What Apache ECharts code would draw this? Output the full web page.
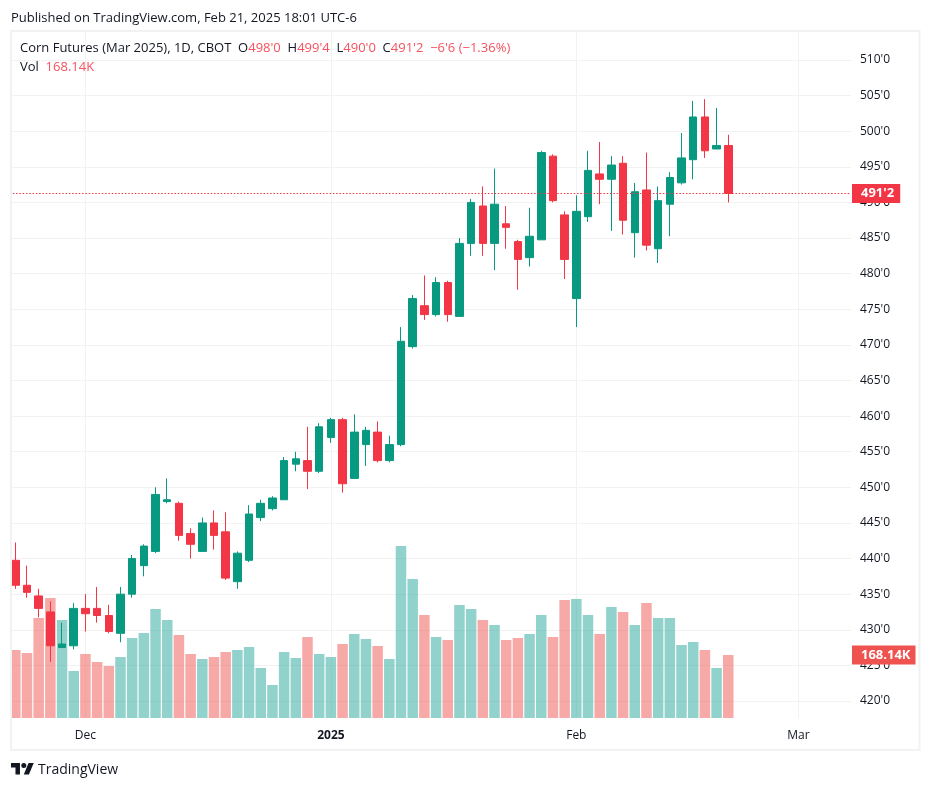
<!DOCTYPE html>
<html>
<head>
<meta charset="utf-8">
<title>Corn Futures (Mar 2025)</title>
<script src="https://cdn.jsdelivr.net/npm/echarts@6/dist/echarts.min.js"></script>
<style>
html, body { margin: 0; padding: 0; background: #fff; }
#main { width: 931px; height: 789px; }
</style>
</head>
<body>
<div id="main"></div>
<script>
// trading days, the last ten have no data yet (empty room on the right of the chart)
var dates = [
    '2024-11-21','2024-11-22','2024-11-25','2024-11-26','2024-11-27','2024-11-29',
    '2024-12-02','2024-12-03','2024-12-04','2024-12-05','2024-12-06',
    '2024-12-09','2024-12-10','2024-12-11','2024-12-12','2024-12-13',
    '2024-12-16','2024-12-17','2024-12-18','2024-12-19','2024-12-20',
    '2024-12-23','2024-12-24','2024-12-26','2024-12-27','2024-12-30','2024-12-31',
    '2025-01-02','2025-01-03','2025-01-06','2025-01-07','2025-01-08','2025-01-09','2025-01-10',
    '2025-01-13','2025-01-14','2025-01-15','2025-01-16','2025-01-17',
    '2025-01-21','2025-01-22','2025-01-23','2025-01-24',
    '2025-01-27','2025-01-28','2025-01-29','2025-01-30','2025-01-31',
    '2025-02-03','2025-02-04','2025-02-05','2025-02-06','2025-02-07',
    '2025-02-10','2025-02-11','2025-02-12','2025-02-13','2025-02-14',
    '2025-02-18','2025-02-19','2025-02-20','2025-02-21',
    '2025-02-24','2025-02-25','2025-02-26','2025-02-27','2025-02-28',
    '2025-03-03','2025-03-04','2025-03-05','2025-03-06','2025-03-07'
];
var opens = [
    439.75,436.25,434.75,432.5,427.5,427.75,433,433,432,429.5,435,439,441,448,447.75,443.5,
    441,445,443.75,436.75,439.75,445.75,447,448.25,453.25,453.75,452.25,457,459.5,451.25,456,
    457.75,453.75,456,469.75,475.5,474.25,478.75,474,484.25,489.5,484.25,487,484.5,482.25,
    484.75,496.5,488.25,476.5,488,494,493.25,495.5,485.75,491.75,483.5,489.75,492.75,496,502,497.5,498
];
var highs = [
    442.25,439,435.75,434,431,433.75,435,436,433.5,436,440.5,442,450,451.25,448,444.25,
    445.75,446.75,446.5,441,447.5,448.25,448.75,454.25,455,458.5,459,459.75,459.75,460.25,458.5,
    459.25,457.25,472.5,477,479.75,479.5,479,485,490.5,492.25,494.75,489.5,484.75,489.25,
    497.25,496.75,488.75,491,497.25,498.5,496.5,496.5,492.75,497,492.25,494.25,499.75,504.25,504.5,503.25,499.5
];
var lows = [
    435.75,434.5,431.75,425.5,427.5,427.25,429.75,431,429.5,428.25,434.5,437.5,440.75,447.75,442.5,440,
    441,441.25,437,435.75,439.5,445.25,446.75,448.25,452.25,449.75,452,456.25,449.25,451.25,453,
    453.5,453.5,455.75,469.5,473.5,474,473.25,474,482.5,482.5,480.5,483.5,477.75,481,
    484.75,490,479.25,472.5,487.25,489.75,486,485.5,482.25,483.25,481.5,485.25,492.5,493.25,496.25,497.5,490
];
var closes = [
    436.25,435.25,433,427.75,428,433,432.25,432,429.75,435,440,441.75,449,448.25,443.25,442,
    445,443.25,437.25,440.75,446.25,447.75,448.5,453.75,454,452.25,458.5,459.5,450.5,457.75,458,
    453.75,456,470.5,476.5,474.25,478.75,474.25,484.25,490,484.25,489.75,486.5,482,485.25,
    497,490.25,482,488.75,494.5,493.25,495.25,487.5,491.5,484,490.25,493.5,496.25,502,497.25,498,491.25
];
// volume in thousands of contracts
var volumes = [
    181.5,173.5,266.9,320.3,261.6,125.4,170.8,149.5,138.8,162.8,213.5,226.9,290.9,261.6,221.5,170.8,
    157.5,162.8,176.2,181.5,189.5,133.5,88.1,176.2,160.1,216.2,170.8,162.8,197.5,224.2,210.9,
    192.2,157.5,459.1,371,274.9,216.2,208.2,301.6,290.9,261.6,248.2,208.2,213.5,224.2,
    274.9,216.2,314.9,317.6,274.9,224.2,296.3,282.9,248.2,306.9,266.9,266.9,194.8,202.8,181.5,133.5,168.14
];
var priceTicks = [420,425,430,435,440,445,450,455,460,465,470,475,480,485,490,495,500,505,510];
var timeTickDates = ['2024-12-02','2025-01-02','2025-02-03','2025-03-03'];
var timeTickNames = ['Dec','2025','Feb','Mar'];

var UP_COLOR = '#089981';
var DOWN_COLOR = '#f23645';
var GRID_COLOR = '#f2f2f3';
var TEXT_COLOR = '#131722';
var FONT = '"Open Sans", sans-serif';

// price in cents with eighths after the apostrophe: 491.25 -> 491'2
function formatPrice(value) {
    var whole = Math.floor(value);
    return whole + "'" + Math.round((value - whole) * 8);
}

function formatChange(value) {
    var abs = Math.abs(value);
    var whole = Math.floor(abs);
    return (value < 0 ? '\u2212' : '') + whole + "'" + Math.round((abs - whole) * 8);
}

var last = opens.length - 1;
var change = closes[last] - closes[last - 1];
var candleData = [];
var volumeData = [];
for (var i = 0; i < opens.length; i++) {
    candleData.push([opens[i], closes[i], lows[i], highs[i]]);
    volumeData.push({
        value: volumes[i],
        itemStyle: { color: closes[i] >= opens[i] ? 'rgba(38,166,154,0.5)' : 'rgba(239,83,80,0.5)' }
    });
}

var headerText =
    '{k|Corn Futures (Mar 2025), 1D, CBOT  O}{r|' + formatPrice(opens[last]) + '}' +
    '{k|  H}{r|' + formatPrice(highs[last]) + '}' +
    '{k|  L}{r|' + formatPrice(lows[last]) + '}' +
    '{k|  C}{r|' + formatPrice(closes[last]) + '}' +
    '{r|  ' + formatChange(change) + ' (\u22121.36%)}';

var headerRich = {
    k: { color: TEXT_COLOR, fontFamily: FONT, fontSize: 13, fontWeight: 'normal' },
    r: { color: '#f7525f', fontFamily: FONT, fontSize: 13, fontWeight: 'normal' }
};

var option = {
    animation: false,
    backgroundColor: '#fff',
    title: [
        { text: 'Published on TradingView.com, Feb 21, 2025 18:01 UTC-6', left: 11, top: 12, padding: 0,
          textStyle: { color: TEXT_COLOR, fontFamily: FONT, fontSize: 13, fontWeight: 'normal' } },
        { text: headerText, left: 20, top: 42, padding: 0, textStyle: { rich: headerRich, fontWeight: 'normal' } },
        { text: '{k|Vol  }{r|' + volumes[last].toFixed(2) + 'K}', left: 20, top: 61, padding: 0,
          textStyle: { rich: headerRich, fontWeight: 'normal' } }
    ],
    grid: { left: 9.45, right: 80, top: 31, height: 687, containLabel: false },
    xAxis: {
        type: 'category',
        data: dates,
        axisLine: { show: false },
        axisTick: { show: false },
        axisLabel: {
            margin: 12,
            color: TEXT_COLOR,
            fontFamily: FONT,
            fontSize: 12,
            interval: function(index, value) {
                return timeTickDates.indexOf(value) >= 0;
            },
            formatter: function(value) {
                var name = timeTickNames[timeTickDates.indexOf(value)];
                return name == '2025' ? '{b|' + name + '}' : name;
            },
            rich: { b: { color: TEXT_COLOR, fontFamily: FONT, fontSize: 12, fontWeight: 'bold' } }
        },
        splitLine: {
            show: true,
            alignWithLabel: true,
            interval: function(index, value) {
                return timeTickDates.indexOf(value) >= 0;
            },
            lineStyle: { color: GRID_COLOR, width: 1 }
        }
    },
    yAxis: [
        {
            type: 'value',
            position: 'right',
            min: 417.61,
            max: 514.07,
            axisLine: { show: false },
            axisTick: { show: false, customValues: priceTicks },
            axisLabel: {
                customValues: priceTicks,
                margin: 9,
                padding: [2, 0, 0, 0],
                color: TEXT_COLOR,
                fontFamily: FONT,
                fontSize: 12,
                formatter: function(value) { return formatPrice(value); }
            },
            splitLine: { show: true, lineStyle: { color: GRID_COLOR, width: 1 } }
        },
        {
            type: 'value',
            min: 0,
            max: 1833.6,
            show: false,
            splitLine: { show: false }
        }
    ],
    series: [
        {
            name: 'Vol',
            type: 'bar',
            yAxisIndex: 1,
            barWidth: 10.5,
            data: volumeData,
            z: 2,
            markLine: {
                silent: true,
                symbol: 'none',
                lineStyle: { color: 'transparent' },
                label: {
                    position: 'end',
                    distance: 1,
                    formatter: function() { return volumes[last].toFixed(2) + 'K'; },
                    color: '#fff',
                    fontFamily: FONT,
                    fontSize: 13,
                    fontWeight: 'bold',
                    backgroundColor: '#ef5350',
                    padding: [3, 5, 3, 9]
                },
                data: [{ yAxis: volumes[last] }]
            }
        },
        {
            name: 'Corn Futures',
            type: 'candlestick',
            yAxisIndex: 0,
            barWidth: 8,
            data: candleData,
            z: 3,
            itemStyle: {
                color: UP_COLOR,
                color0: DOWN_COLOR,
                borderColor: UP_COLOR,
                borderColor0: DOWN_COLOR,
                borderWidth: 1,
                borderJoin: 'miter'
            },
            markLine: {
                silent: true,
                symbol: 'none',
                lineStyle: { color: DOWN_COLOR, type: [1.5, 1.8], width: 1 },
                label: {
                    position: 'end',
                    distance: 1,
                    formatter: function() { return formatPrice(closes[last]); },
                    color: '#fff',
                    fontFamily: FONT,
                    fontSize: 13,
                    fontWeight: 'bold',
                    backgroundColor: DOWN_COLOR,
                    padding: [3, 6, 3, 9]
                },
                data: [{ yAxis: closes[last] }]
            }
        }
    ],
    graphic: [
        // frame of the chart, white strip hides the part of the first band left of it
        { type: 'rect', z: 100, shape: { x: 0, y: 30, width: 10.5, height: 720 }, style: { fill: '#fff' } },
        { type: 'rect', z: 101, shape: { x: 11, y: 31, width: 908.5, height: 719 },
          style: { fill: 'none', stroke: GRID_COLOR, lineWidth: 2 } },
        // logo
        { type: 'polygon', z: 101, x: 11, y: 760.4, scaleX: 0.64, scaleY: 0.64,
          shape: { points: [[0, 4], [14, 4], [14, 22], [7, 22], [7, 11], [0, 11]] }, style: { fill: TEXT_COLOR } },
        { type: 'polygon', z: 101, x: 11, y: 760.4, scaleX: 0.64, scaleY: 0.64,
          shape: { points: [[27.5, 4], [35.5, 4], [28, 22], [20, 22]] }, style: { fill: TEXT_COLOR } },
        { type: 'circle', z: 101, shape: { cx: 23.8, cy: 765.5, r: 2.5 }, style: { fill: TEXT_COLOR } },
        { type: 'text', z: 101, x: 38, y: 763.5, style: { text: 'TradingView', fill: TEXT_COLOR, font: '14px ' + FONT } }
    ]
};

var chart = echarts.init(document.getElementById('main'));
chart.setOption(option);
</script>
</body>
</html>
